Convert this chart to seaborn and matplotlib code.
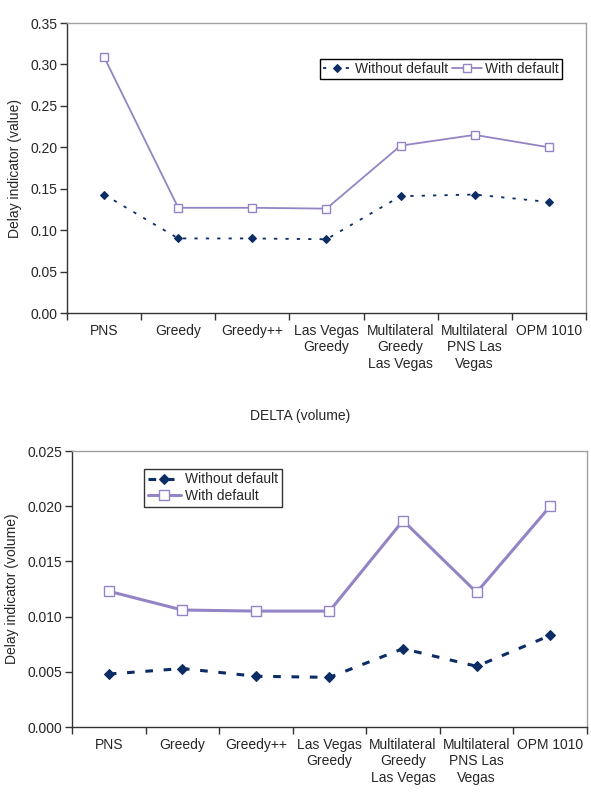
import pandas as pd
import seaborn as sns
import matplotlib.pyplot as plt

methods = ["PNS", "Greedy", "Greedy++", "Las Vegas\nGreedy",
           "Multilateral\nGreedy\nLas Vegas", "Multilateral\nPNS Las\nVegas", "OPM 1010"]

# delay indicator (value)
value_without = [0.143, 0.090, 0.090, 0.089, 0.141, 0.143, 0.134]
value_with = [0.309, 0.127, 0.127, 0.126, 0.202, 0.215, 0.200]

# delay indicator (volume)
volume_without = [0.0048, 0.0053, 0.0046, 0.0045, 0.0071, 0.0055, 0.0083]
volume_with = [0.0123, 0.0106, 0.0105, 0.0105, 0.0187, 0.0122, 0.0200]

value_ticks = [0.00, 0.05, 0.10, 0.15, 0.20, 0.25, 0.30, 0.35]
volume_ticks = [0.000, 0.005, 0.010, 0.015, 0.020, 0.025]

NAVY = "#0B2C64"
PURPLE = "#9484C6"

sns.set_style("white")
plt.rcParams['font.family'] = ['Liberation Sans', 'DejaVu Sans']
plt.rcParams['font.size'] = 10

fig = plt.figure(figsize=(5.91, 8.08), dpi=100)
ax1 = fig.add_axes([0.1134, 0.6126, 0.878, 0.3589])
ax2 = fig.add_axes([0.1218, 0.1002, 0.8714, 0.3416])


def draw(ax, without, with_, ticks, fmt, ylabel, lw, dash, msq, mdia):
    df = pd.DataFrame({"method": methods, "without": without, "with": with_})
    sns.lineplot(data=df, x="method", y="without", ax=ax, sort=False, errorbar=None,
                 color=NAVY, lw=lw, linestyle=(0, dash), marker="D", markersize=mdia,
                 markeredgecolor=NAVY, label="Without default")
    sns.lineplot(data=df, x="method", y="with", ax=ax, sort=False, errorbar=None,
                 color=PURPLE, lw=lw, marker="s", markersize=msq,
                 markerfacecolor="white", markeredgecolor=PURPLE, markeredgewidth=1,
                 label="With default")
    ax.set_xlim(-0.5, len(methods) - 0.5)
    ax.set_ylim(ticks[0], ticks[-1])
    ax.set_yticks(ticks)
    ax.set_yticklabels([fmt.format(t) for t in ticks])
    ax.set_xticks([i - 0.5 for i in range(len(methods) + 1)])
    ax.set_xticklabels([])
    ax.set_xticks(range(len(methods)), minor=True)
    ax.set_xticklabels(methods, minor=True, va="top")
    ax.tick_params(axis="x", which="minor", length=0, pad=8, labelsize=10)
    ax.tick_params(axis="x", which="major", length=5, width=1, direction="out",
                   color="#333333", bottom=True)
    ax.tick_params(axis="y", length=5, width=1, direction="out", color="#333333",
                   left=True, labelsize=10, pad=2)
    ax.set_xlabel("")
    ax.set_ylabel(ylabel, fontsize=10, labelpad=6)
    for s in ["left", "bottom"]:
        ax.spines[s].set_color("#333333")
        ax.spines[s].set_linewidth(1)
    for s in ["top", "right"]:
        ax.spines[s].set_color("#A0A0A0")
        ax.spines[s].set_linewidth(1)


draw(ax1, value_without, value_with, value_ticks, "{:.2f}",
     "Delay indicator (value)", 1.3, (1.8, 4.5), 6, 4.5)
draw(ax2, volume_without, volume_with, volume_ticks, "{:.3f}",
     "Delay indicator (volume)", 2.2, (2.5, 3.5), 7.5, 5.5)

leg1 = ax1.legend(ncol=2, loc="upper left", bbox_to_anchor=(0.487, 0.875),
                  frameon=True, fancybox=False, edgecolor="black", framealpha=1,
                  handlelength=2.1, columnspacing=0.3, handletextpad=0.25,
                  borderpad=0.2, borderaxespad=0, fontsize=10)
leg1.get_frame().set_linewidth(1)
leg2 = ax2.legend(ncol=1, loc="upper left", bbox_to_anchor=(0.14, 0.935),
                  frameon=True, fancybox=False, edgecolor="#333333", framealpha=1,
                  handlelength=2.4, handletextpad=0.3, labelspacing=0.2,
                  borderpad=0.25, borderaxespad=0, fontsize=10)
leg2.get_frame().set_linewidth(1)

fig.text(0.507, 0.485, "DELTA (volume)", ha="center", va="center", fontsize=10)

fig.savefig("out.png", dpi=100)
